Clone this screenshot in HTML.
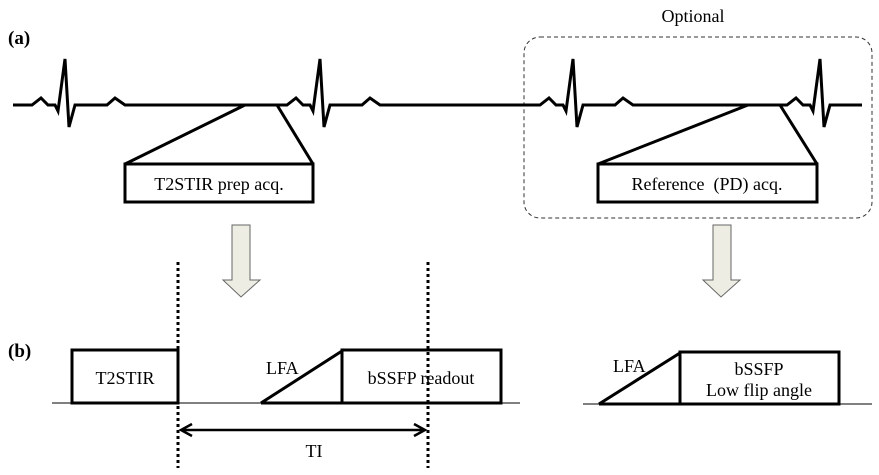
<!DOCTYPE html>
<html><head><meta charset="utf-8"><style>
html,body{margin:0;padding:0;background:#fff;}
svg{display:block;}
text{font-family:"Liberation Serif",serif;font-size:18px;fill:#000;}
</style></head><body>
<svg width="879" height="475" viewBox="0 0 879 475" xmlns="http://www.w3.org/2000/svg">
<text x="8" y="44" font-weight="bold" style="font-size:19px">(a)</text>
<text x="8" y="357" font-weight="bold" style="font-size:19px">(b)</text>
<text x="693" y="22" text-anchor="middle">Optional</text>
<rect x="524" y="37" width="348" height="181" rx="16" fill="none" stroke="#333" stroke-width="1" stroke-dasharray="4,3"/>
<polyline fill="none" stroke="#000" stroke-width="3" stroke-linejoin="miter" points="
13,105 32,105 41,98 48,105 55,105 58,111 65,59 69,127 75,105 107,105 115,98 125,105
287,105 296,98 303,105 310,105 313,111 320,59 324,127 330,105 362,105 370,98 380,105
540,105 549,98 556,105 563,105 566,111 573,59 577,127 583,105 615,105 623,98 633,105
787,105 796,98 803,105 810,105 813,111 820,59 824,127 830,105 862,105"/>
<line x1="245" y1="105" x2="125" y2="164" stroke="#000" stroke-width="3"/>
<line x1="277" y1="105" x2="313" y2="164" stroke="#000" stroke-width="3"/>
<rect x="125" y="164" width="188" height="38" fill="#fff" stroke="#000" stroke-width="3"/>
<text x="219" y="190" text-anchor="middle">T2STIR prep acq.</text>
<line x1="748" y1="105" x2="598" y2="164" stroke="#000" stroke-width="3"/>
<line x1="780" y1="105" x2="817" y2="164" stroke="#000" stroke-width="3"/>
<rect x="598" y="164" width="219" height="38" fill="#fff" stroke="#000" stroke-width="3"/>
<text x="707" y="190" text-anchor="middle">Reference&#160;&#160;(PD) acq.</text>
<polygon points="232,225 250,225 250,280 260,280 241,297 223,280 232,280" fill="#eeede4" stroke="#666" stroke-width="1"/>
<polygon points="713,225 731,225 731,280 740,280 721,297 703,280 713,280" fill="#eeede4" stroke="#666" stroke-width="1"/>
<line x1="52" y1="403" x2="520" y2="403" stroke="#000" stroke-width="1"/>
<rect x="72" y="350" width="106" height="53" fill="none" stroke="#000" stroke-width="3"/>
<text x="125" y="384" text-anchor="middle">T2STIR</text>
<polyline points="261,403 342,351 342,403 261,403" fill="none" stroke="#000" stroke-width="3"/>
<text x="266" y="374">LFA</text>
<rect x="342" y="350" width="159" height="53" fill="none" stroke="#000" stroke-width="3"/>
<text x="421" y="384" text-anchor="middle">bSSFP readout</text>
<line x1="178" y1="262" x2="178" y2="468" stroke="#000" stroke-width="3" stroke-dasharray="3,3"/>
<line x1="428" y1="262" x2="428" y2="468" stroke="#000" stroke-width="3" stroke-dasharray="3,3"/>
<line x1="182" y1="430" x2="424" y2="430" stroke="#000" stroke-width="2.5"/>
<polyline points="192,424 181,430 192,436" fill="none" stroke="#000" stroke-width="2.5"/>
<polyline points="414,424 425,430 414,436" fill="none" stroke="#000" stroke-width="2.5"/>
<text x="314" y="457" text-anchor="middle">TI</text>
<line x1="583" y1="404" x2="872" y2="404" stroke="#000" stroke-width="1"/>
<polyline points="599,404 680,353 680,404 599,404" fill="none" stroke="#000" stroke-width="3"/>
<text x="613" y="372">LFA</text>
<rect x="680" y="352" width="159" height="52" fill="none" stroke="#000" stroke-width="3"/>
<text x="759" y="375" text-anchor="middle">bSSFP</text>
<text x="759" y="396" text-anchor="middle">Low flip angle</text>
</svg>
</body></html>
